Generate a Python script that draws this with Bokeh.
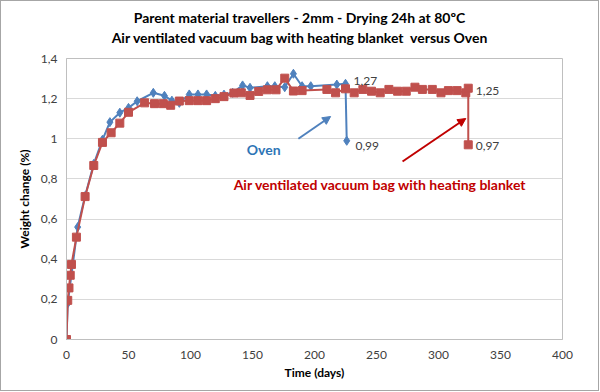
from bokeh.plotting import figure
from bokeh.models import Label, Arrow, NormalHead, FixedTicker, Div
from bokeh.layouts import column
from bokeh.embed import file_html
from bokeh.resources import INLINE

# ---- data ----
oven_days = [0, 1, 9, 15, 22, 29, 35, 43, 50, 57, 70, 79, 85, 91, 99, 106, 113, 120, 127, 134,
             142, 148, 162, 168, 176, 183, 190, 197, 218, 225, 226]
oven_vals = [0, 0.18, 0.56, 0.715, 0.875, 0.995, 1.083, 1.13, 1.154, 1.187, 1.229, 1.214, 1.19,
             1.179, 1.221, 1.221, 1.221, 1.214, 1.22, 1.229, 1.266, 1.254, 1.262, 1.262, 1.257,
             1.324, 1.262, 1.262, 1.27, 1.274, 0.99]

vac_days = [0, 1, 2, 3, 4, 8, 15, 22, 29, 36, 43, 50, 63, 71, 78, 84, 91, 99, 106, 113, 120,
            127, 135, 141, 148, 155, 162, 169, 176, 183, 190, 210, 217, 225, 232, 239, 246, 253,
            260, 267, 274, 281, 287, 295, 302, 308, 315, 322, 324, 324]
vac_vals = [0, 0.195, 0.257, 0.32, 0.374, 0.51, 0.712, 0.867, 0.982, 1.03, 1.078, 1.132, 1.179,
            1.175, 1.175, 1.167, 1.188, 1.19, 1.19, 1.19, 1.2, 1.21, 1.228, 1.229, 1.216, 1.236,
            1.244, 1.244, 1.302, 1.238, 1.24, 1.246, 1.229, 1.249, 1.229, 1.246, 1.237, 1.229,
            1.246, 1.237, 1.237, 1.257, 1.246, 1.246, 1.229, 1.24, 1.24, 1.229, 1.252, 0.97]

x_ticks = [0, 50, 100, 150, 200, 250, 300, 350, 400]
y_ticks = [0, 0.2, 0.4, 0.6, 0.8, 1.0, 1.2, 1.4]
y_tick_labels = ["0", "0,2", "0,4", "0,6", "0,8", "1", "1,2", "1,4"]

title_lines = ["Parent material travellers - 2mm - Drying 24h at 80\u00baC",
               "Air ventilated vacuum bag with heating blanket  versus Oven"]

# annotation anchors (data units)
value_labels = [("1,27", 231.5, 1.29), ("0,99", 233, 0.962), ("1,25", 330, 1.24), ("0,97", 330, 0.962)]
oven_text = ("Oven", 159, 0.947)
vac_text = ("Air ventilated vacuum bag with heating blanket", 253, 0.772)
oven_arrow = (187, 1.0, 213, 1.111)
vac_arrow = (271, 0.887, 322, 1.101)

BLUE = "#4F81BD"
RED = "#C0504D"
FONT = "Lato"

title_div = Div(
    text="<div style='font-family:Lato;font-weight:bold;font-size:14px;line-height:20px;"
         "text-align:center;white-space:pre;color:#000;padding-top:7px;width:597px'>"
         + title_lines[0] + "<br>" + title_lines[1] + "</div>",
    width=597, height=46, margin=0)

p = figure(width=597, height=343, x_range=(0, 400), y_range=(0, 1.4),
           output_backend="svg", toolbar_location=None, margin=0,
           min_border_left=65, min_border_right=36, min_border_top=11, min_border_bottom=51)

p.line(oven_days, oven_vals, line_color=BLUE, line_width=2)
p.scatter(oven_days, oven_vals, marker="diamond", size=9, fill_color=BLUE, line_color=BLUE)
p.line(vac_days, vac_vals, line_color=RED, line_width=2)
p.scatter(vac_days, vac_vals, marker="square", size=8, fill_color=RED, line_color=RED)

p.xaxis.ticker = FixedTicker(ticks=x_ticks)
p.yaxis.ticker = FixedTicker(ticks=y_ticks)
p.yaxis.major_label_overrides = {t: l for t, l in zip(y_ticks, y_tick_labels)}
for ax in (p.xaxis[0], p.yaxis[0]):
    ax.major_tick_line_color = None
    ax.minor_tick_line_color = None
    ax.axis_line_color = "#bfbfbf"
    ax.major_label_text_font = FONT
    ax.major_label_text_font_size = "12px"
    ax.major_label_text_color = "#404040"
    ax.axis_label_text_font = FONT
    ax.axis_label_text_font_size = "12px"
    ax.axis_label_text_font_style = "bold"
    ax.axis_label_text_color = "#000000"
p.xaxis.axis_label = "Time (days)"
p.yaxis.axis_label = "Weight change (%)"
p.xaxis.axis_label_standoff = 3
p.yaxis.axis_label_standoff = 6
p.xaxis.major_label_standoff = 5
p.yaxis.major_label_standoff = 3

p.xgrid.grid_line_color = None
p.ygrid.grid_line_color = "#d9d9d9"
p.outline_line_color = "#bfbfbf"

for txt, x, y in value_labels:
    p.add_layout(Label(x=x, y=y, text=txt, text_font=FONT, text_font_size="12px",
                       text_color="#404040", text_baseline="middle"))

p.add_layout(Label(x=oven_text[1], y=oven_text[2], text=oven_text[0], text_font=FONT,
                   text_font_size="14px", text_font_style="bold", text_color="#2E75B6",
                   text_align="center", text_baseline="middle"))
p.add_layout(Label(x=vac_text[1], y=vac_text[2], text=vac_text[0], text_font=FONT,
                   text_font_size="14px", text_font_style="bold", text_color="#C00000",
                   text_align="center", text_baseline="middle"))

p.add_layout(Arrow(x_start=oven_arrow[0], y_start=oven_arrow[1], x_end=oven_arrow[2], y_end=oven_arrow[3],
                   line_color=BLUE, line_width=2,
                   end=NormalHead(size=8, fill_color=BLUE, line_color=BLUE)))
p.add_layout(Arrow(x_start=vac_arrow[0], y_start=vac_arrow[1], x_end=vac_arrow[2], y_end=vac_arrow[3],
                   line_color="#C00000", line_width=2,
                   end=NormalHead(size=8, fill_color="#C00000", line_color="#C00000")))

layout = column(title_div, p, spacing=0)
layout.styles = {"border": "1px solid #a6a6a6", "background-color": "#ffffff"}

open("out.html", "w").write(file_html(layout, INLINE))
